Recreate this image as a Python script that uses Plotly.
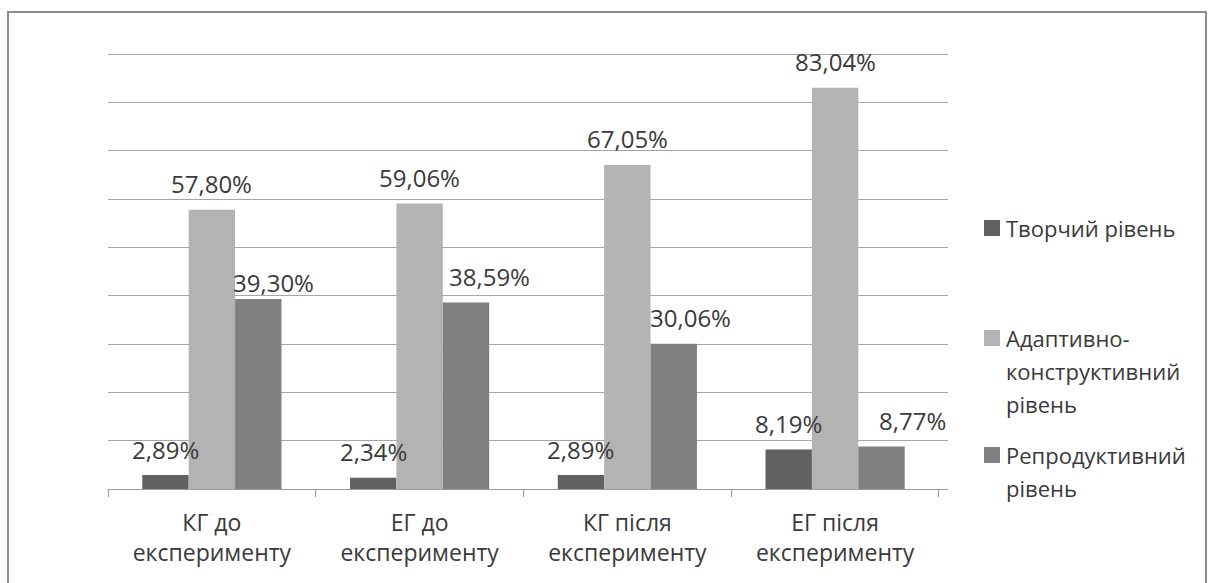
import plotly.graph_objects as go

categories = ["КГ до<br>експерименту", "ЕГ до<br>експерименту",
              "КГ після<br>експерименту", "ЕГ після<br>експерименту"]
series_names = ["Творчий рівень", "Адаптивно-<br>конструктивний<br>рівень",
                "Репродуктивний<br>рівень"]
creative = [2.89, 2.34, 2.89, 8.19]
adaptive = [57.80, 59.06, 67.05, 83.04]
reproductive = [39.30, 38.59, 30.06, 8.77]

series = [creative, adaptive, reproductive]
colors = ["#616161", "#b3b3b3", "#808080"]

# nudges (px) applied to the value labels of each series
label_dx = [[0, 0, 0, 0], [0, 0, 0, 0], [15, 23, 17, 31]]
label_dy = [[0, 0, 0, 0], [0, 0, 0, 0], [-9, 0, 0, 0]]

FONT = "Open Sans"
TXT = "#3a3a3a"
BARGAP = 0.33
W, H = 1208, 583
ML, MR, MT, MB = 108, 260, 44, 94
PW, PH = W - ML - MR, H - MT - MB
Y_TOP = PH / (435 / 90)   # keeps 10 % steps 48.3 px apart, 90 % line inside


def px_x(x):
    return (x - ML) / PW


def px_y(y):
    return (H - MB - y) / PH


fig = go.Figure()
for name, vals, col in zip(series_names, series, colors):
    fig.add_trace(go.Bar(x=categories, y=vals, name=name,
                         marker=dict(color=col, line=dict(width=0)),
                         showlegend=False))

# value labels above each bar
bw = (1 - BARGAP) / len(series)
for si, vals in enumerate(series):
    off = (si - (len(series) - 1) / 2) * bw
    for ci, v in enumerate(vals):
        fig.add_annotation(x=ci + off, y=v, xref="x", yref="y",
                           text=f"{v:.2f}%".replace(".", ","),
                           showarrow=False, yanchor="middle",
                           yshift=26 + label_dy[si][ci],
                           xshift=label_dx[si][ci],
                           font=dict(family=FONT, size=24, color=TXT))

# outer frame of the chart
fig.add_shape(type="rect", xref="paper", yref="paper",
              x0=px_x(8), x1=px_x(1206), y0=-0.5, y1=px_y(12),
              fillcolor="rgba(0,0,0,0)",
              line=dict(color="#8c8c8c", width=2), layer="above")

# legend: colour square + label lines per series
legend_rows = [228, 338, 455]
LINE_STEP = 33
for name, col, yc in zip(series_names, colors, legend_rows):
    fig.add_shape(type="rect", xref="paper", yref="paper",
                  x0=px_x(984), x1=px_x(1000), y0=px_y(yc + 8), y1=px_y(yc - 8),
                  fillcolor=col, line=dict(width=0))
    for li, line in enumerate(name.split("<br>")):
        fig.add_annotation(x=px_x(1004), y=px_y(yc + li * LINE_STEP),
                           xref="paper", yref="paper",
                           text=line, showarrow=False, xanchor="left",
                           yanchor="middle", align="left",
                           font=dict(family=FONT, size=22, color=TXT))

fig.update_layout(
    width=W, height=H,
    margin=dict(l=ML, r=MR, t=MT, b=MB),
    paper_bgcolor="white", plot_bgcolor="white",
    barmode="group", bargap=BARGAP, bargroupgap=0,
    showlegend=False,
    xaxis=dict(type="category", automargin=False,
               showline=True, linecolor="#9a9a9a", linewidth=1,
               ticks="outside", tickson="boundaries", ticklen=7,
               tickcolor="#9a9a9a", ticklabelstandoff=13, showgrid=False,
               tickfont=dict(family=FONT, size=23, color=TXT)),
    yaxis=dict(range=[0, Y_TOP], tickmode="array",
               tickvals=list(range(0, 100, 10)), showgrid=True,
               gridcolor="#a6a6a6", gridwidth=1, showticklabels=False,
               zeroline=False, showline=False, automargin=False),
)
fig.write_html("out.html")
